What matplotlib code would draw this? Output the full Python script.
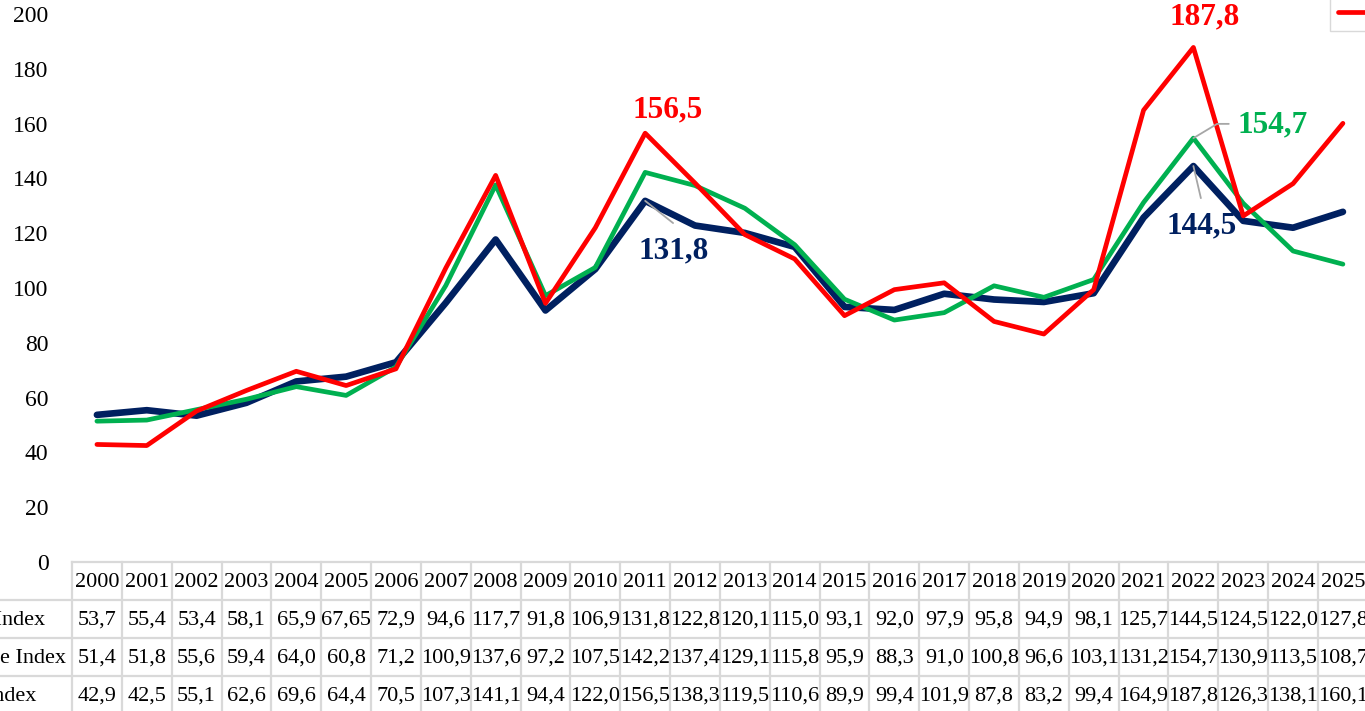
import matplotlib
matplotlib.use("Agg")
import matplotlib.pyplot as plt

plt.rcParams['font.family'] = ['Liberation Serif', 'DejaVu Serif']

years = [str(y) for y in range(2000, 2026)]
series_names = ["Food Price Index", "Cereals Price Index", "Oils Price Index"]
food = [53.7, 55.4, 53.4, 58.1, 65.9, 67.65, 72.9, 94.6, 117.7, 91.8, 106.9, 131.8, 122.8,
        120.1, 115.0, 93.1, 92.0, 97.9, 95.8, 94.9, 98.1, 125.7, 144.5, 124.5, 122.0, 127.8]
cereals = [51.4, 51.8, 55.6, 59.4, 64.0, 60.8, 71.2, 100.9, 137.6, 97.2, 107.5, 142.2, 137.4,
           129.1, 115.8, 95.9, 88.3, 91.0, 100.8, 96.6, 103.1, 131.2, 154.7, 130.9, 113.5, 108.7]
oils = [42.9, 42.5, 55.1, 62.6, 69.6, 64.4, 70.5, 107.3, 141.1, 94.4, 122.0, 156.5, 138.3,
        119.5, 110.6, 89.9, 99.4, 101.9, 87.8, 83.2, 99.4, 164.9, 187.8, 126.3, 138.1, 160.1]
table_text = [
    ["53,7", "55,4", "53,4", "58,1", "65,9", "67,65", "72,9", "94,6", "117,7", "91,8", "106,9", "131,8", "122,8",
     "120,1", "115,0", "93,1", "92,0", "97,9", "95,8", "94,9", "98,1", "125,7", "144,5", "124,5", "122,0", "127,8"],
    ["51,4", "51,8", "55,6", "59,4", "64,0", "60,8", "71,2", "100,9", "137,6", "97,2", "107,5", "142,2", "137,4",
     "129,1", "115,8", "95,9", "88,3", "91,0", "100,8", "96,6", "103,1", "131,2", "154,7", "130,9", "113,5", "108,7"],
    ["42,9", "42,5", "55,1", "62,6", "69,6", "64,4", "70,5", "107,3", "141,1", "94,4", "122,0", "156,5", "138,3",
     "119,5", "110,6", "89,9", "99,4", "101,9", "87,8", "83,2", "99,4", "164,9", "187,8", "126,3", "138,1", "160,1"],
]
yticks = [0, 20, 40, 60, 80, 100, 120, 140, 160, 180, 200]

NAVY = "#002060"
GREEN = "#00B050"
RED = "#FF0000"
GRID = "#D9D9D9"
LEADER = "#A6A6A6"

W, H = 1365, 711
fig = plt.figure(figsize=(W / 100, H / 100), dpi=100)

col_w = 49.84
x0 = 72
n = len(years)
ax = fig.add_axes([x0 / W, (H - 562) / H, n * col_w / W, 548 / H])
xs = list(range(n))

ax.plot(xs, food, color=NAVY, lw=4.8, solid_capstyle='round', zorder=3, label=series_names[0])
ax.plot(xs, cereals, color=GREEN, lw=3.4, solid_capstyle='round', zorder=4, label=series_names[1])
ax.plot(xs, oils, color=RED, lw=3.4, solid_capstyle='round', zorder=5, label=series_names[2])

ax.set_xlim(-0.5, n - 0.5)
ax.set_ylim(0, 200)
ax.set_yticks(yticks)
ax.set_yticklabels([str(v) for v in yticks], fontsize=17)
ax.tick_params(axis='y', length=0, pad=17)
ax.set_xticks([])
for s in ax.spines.values():
    s.set_visible(False)

# annotations
fs_a = 22.5
ax.text(11.46, 165.0, "156,5", color=RED, fontsize=fs_a, fontweight='bold', ha='center', va='center')
ax.text(22.23, 198.9, "187,8", color=RED, fontsize=fs_a, fontweight='bold', ha='center', va='center')
ax.text(11.58, 113.5, "131,8", color=NAVY, fontsize=fs_a, fontweight='bold', ha='center', va='center')
ax.text(22.17, 122.6, "144,5", color=NAVY, fontsize=fs_a, fontweight='bold', ha='center', va='center')
ax.text(23.58, 159.5, "154,7", color=GREEN, fontsize=fs_a, fontweight='bold', ha='center', va='center')

lp = dict(arrowstyle='-', color=LEADER, lw=1.3, shrinkA=0, shrinkB=0)
ax.annotate("", xy=(11, food[11]), xytext=(11.56, 123.7), arrowprops=lp, zorder=6)
ax.annotate("", xy=(22, food[22]), xytext=(22.15, 132.8), arrowprops=lp, zorder=6)
ax.annotate("", xy=(22, cereals[22]), xytext=(22.71, 159.9),
            arrowprops=dict(lp, connectionstyle='angle,angleA=0,angleB=31,rad=0'), zorder=6)

# legend (mostly outside the visible area)
fig.legend(loc='lower left', bbox_to_anchor=(1330 / W, (H - 31) / H), bbox_transform=fig.transFigure,
           borderaxespad=0, fontsize=14, frameon=True, fancybox=False, edgecolor=GRID,
           framealpha=1, handlelength=2.2)

# data table
tax = fig.add_axes([x0 / W, (H - 562 - 152) / H, n * col_w / W, 152 / H])
tax.set_xlim(-0.5, n - 0.5)
tax.set_ylim(4, 0)
tax.axis('off')
lw_t = 1.6
fs_t = 16
tax.plot([-0.5, n - 0.5], [0, 0], color=GRID, lw=lw_t, clip_on=False)
for r in (1, 2, 3):
    tax.plot([-3.0, n - 0.5], [r, r], color=GRID, lw=lw_t, clip_on=False)
for k in range(n + 1):
    tax.plot([k - 0.5, k - 0.5], [0, 4], color=GRID, lw=lw_t, clip_on=False)
for i, y in enumerate(years):
    tax.text(i, 0.53, y, ha='center', va='center', fontsize=fs_t)
for r, name in enumerate(series_names):
    for i, t in enumerate(table_text[r]):
        tax.text(i, r + 1.53, t, ha='center', va='center', fontsize=fs_t)
label_x = -0.5 - (x0 + 107.5) / col_w
for r, name in enumerate(series_names):
    tax.text(label_x, r + 1.53, name, ha='left', va='center', fontsize=fs_t, clip_on=False)

fig.savefig("out.png", dpi=100)
